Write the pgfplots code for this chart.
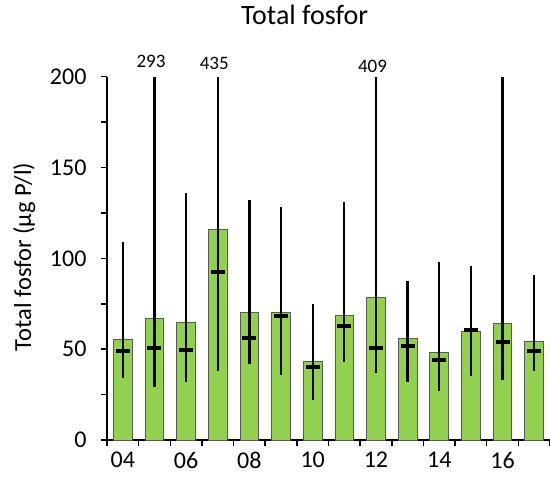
\documentclass[border=0pt]{standalone}
\usepackage{pgfplots}
\pgfplotsset{compat=1.18}
\usepackage{pgfplotstable}
\usepackage{fontspec}
\setmainfont{Carlito}
\definecolor{barfill}{HTML}{92D050}
\definecolor{barline}{HTML}{595959}

\pgfplotstableread{
x mean med min max
0 55.6 49.0 34 109
1 67.0 50.5 29 293
2 65.0 49.5 32 136
3 116.0 92.5 38 435
4 70.3 56.0 42 132
5 70.3 68.4 36 128
6 43.1 40.4 22 74.7
7 68.8 63.0 43 131
8 78.3 50.5 37 409
9 56.0 52.0 32 87.7
10 48.2 44.0 27 97.8
11 59.6 60.5 35 95.8
12 64.2 54.0 33 215
13 54.3 49.0 38 90.8
}\datatable

\pgfplotstableread{
x y lab
1 204.8 293
3 203.7 435
8 202.4 409
}\labeltable

\begin{document}
\begin{tikzpicture}
\useasboundingbox (-107pt,-39pt) rectangle (443pt,440pt);
\begin{axis}[
  at={(0pt,0pt)}, anchor=south west,
  scale only axis,
  width=443pt, height=363.3pt,
  xmin=-0.5, xmax=13.5,
  ymin=0, ymax=200,
  clip=false,
  axis lines*=left,
  axis line style={line width=1.5pt, black},
  tick align=outside,
  major tick length=6pt,
  minor tick length=6pt,
  tick style={line width=1.5pt, black},
  ytick={0,50,...,200},
  minor ytick={25,75,...,175},
  xtick={0,2,...,12},
  xticklabels={04,06,08,10,12,14,16},
  minor xtick={-0.5,0.5,...,13.5},
  major x tick style={draw=none},
  /pgf/number format/assume math mode=true,
  ticklabel style={font=\fontsize{24}{24}\selectfont},
  yticklabel style={xshift=-11pt},
  xticklabel style={yshift=-2.5pt},
  title={Total fosfor},
  title style={font=\fontsize{28}{28}\selectfont, at={(axis description cs:0.446,1.1285)}, anchor=base},
  ylabel={Total fosfor (µg P/l)},
  ylabel style={font=\fontsize{24.5}{24.5}\selectfont, at={(axis description cs:-0.187,0.504)}, anchor=center},
]
\addplot[ybar, bar width=18.7pt, fill=barfill, draw=barline, line width=0.8pt]
  table[x=x, y=mean] {\datatable};
\addplot[only marks, mark=-, mark size=7pt, mark options={line width=4pt, black},
  error bars/.cd, y dir=both, y explicit, error mark=none,
  error bar style={line width=2.3pt, black}]
  table[x=x, y=med,
    y error plus expr={min(\thisrow{max},200)-\thisrow{med}},
    y error minus expr={\thisrow{med}-\thisrow{min}}] {\datatable};
\addplot[draw=none, mark=none, nodes near coords, point meta=explicit symbolic,
  nodes near coords style={anchor=base, xshift=-3.5pt, font=\fontsize{19}{19}\selectfont}]
  table[x=x, y=y, meta=lab] {\labeltable};
\end{axis}
\end{tikzpicture}
\end{document}
